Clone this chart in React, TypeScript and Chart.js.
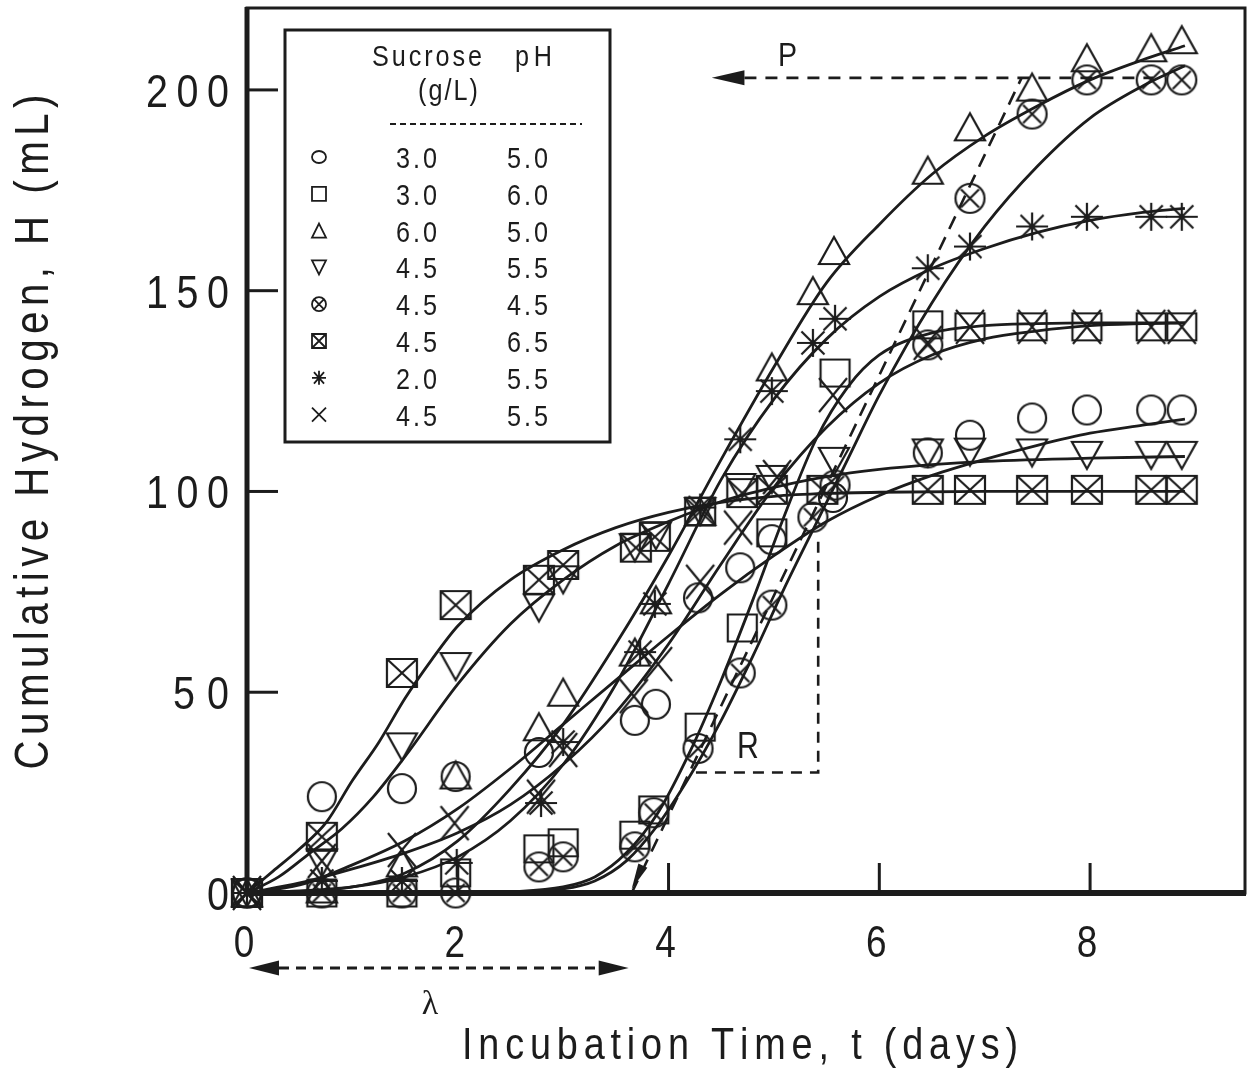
import React, { useEffect, useRef } from 'react';
import { Chart, registerables } from 'chart.js';
Chart.register(...registerables);

const INK = '#1c1c1c';
const SANS = '"Liberation Sans", Arial, Helvetica, sans-serif';
const SERIF = '"Liberation Serif", "DejaVu Serif", serif';
const NARROW = 0.84;

// ---------- axis ticks ----------
const xTickVals = [0, 2, 4, 6, 8];
const xTickLabels = ['0', '2', '4', '6', '8'];
const yTickVals = [0, 50, 100, 150, 200];
const yTickLabels = ['0', '50', '100', '150', '200'];

// ---------- legend ----------
const legendSucrose = ['3.0', '3.0', '6.0', '4.5', '4.5', '4.5', '2.0', '4.5'];
const legendPH = ['5.0', '6.0', '5.0', '5.5', '4.5', '6.5', '5.5', '5.5'];

// ---------- measured points ----------
const circleT = [0, 0.71, 1.47, 1.98, 2.77, 3.68, 3.88, 4.28, 4.68, 4.98, 5.56, 6.46, 6.86, 7.45, 7.97, 8.58, 8.87];
const circleH = [0, 24, 26, 29, 35, 43, 47, 73.5, 81, 88, 98.5, 109.6, 114, 118.3, 120.3, 120.3, 120.3];

const squareT = [0, 0.71, 1.47, 1.98, 2.77, 3.0, 3.68, 3.86, 4.3, 4.7, 4.98, 5.58, 6.46, 6.86, 7.45, 7.97, 8.58, 8.87];
const squareH = [0, 0, 0, 5, 11, 12.5, 14.4, 20.7, 41.3, 66, 89.7, 129.5, 141.5, 141, 141, 141, 141, 141];

const triUpT = [0, 0.71, 1.47, 1.98, 2.77, 3.0, 3.68, 3.88, 4.3, 4.98, 5.37, 5.57, 6.46, 6.86, 7.45, 7.97, 8.58, 8.87];
const triUpH = [0, 1, 7.5, 29.4, 41.4, 50, 60, 73, 95, 131, 150, 160, 180, 190.8, 200.7, 208, 210.5, 212.5];

const triDownT = [0, 0.71, 1.47, 1.98, 2.77, 3.0, 3.68, 3.88, 4.3, 4.68, 4.98, 5.57, 6.46, 6.86, 7.45, 7.97, 8.58, 8.87];
const triDownH = [0, 7.5, 36.4, 56.4, 71, 78, 86, 89, 95, 101, 103, 107.5, 109.6, 109.8, 109.6, 109, 109, 109];

const circXT = [0, 0.71, 1.47, 1.98, 2.77, 3.0, 3.68, 3.86, 4.28, 4.68, 4.98, 5.37, 5.58, 6.46, 6.86, 7.45, 7.97, 8.58, 8.87];
const circXH = [0, 0, 0, 0, 6.5, 9, 11.5, 20, 36, 54.8, 71.7, 93.6, 101.6, 136.5, 173, 194, 202.5, 202.5, 202.5];

const sqXT = [0, 0.71, 1.47, 1.98, 2.77, 3.0, 3.69, 3.87, 4.3, 4.7, 4.98, 5.46, 6.46, 6.86, 7.45, 7.97, 8.58, 8.87];
const sqXH = [0, 14, 54.8, 71.7, 78, 81.7, 86, 88.7, 95, 99.6, 100.4, 100.4, 100.4, 100.4, 100.4, 100.4, 100.4, 100.4];

const starT = [0, 0.71, 1.47, 1.99, 2.79, 3.0, 3.73, 3.87, 4.3, 4.68, 4.98, 5.37, 5.58, 6.46, 6.86, 7.45, 7.97, 8.58, 8.87];
const starH = [0, 3, 3, 7.5, 22.4, 37.6, 60, 72, 96, 113, 125, 137, 143, 155.6, 161, 166, 168.4, 168.4, 168.4];

const crossT = [0, 0.71, 1.47, 1.97, 2.79, 3.0, 3.67, 3.9, 4.3, 4.66, 5.03, 5.56, 6.46, 6.86, 7.45, 7.97, 8.58, 8.87];
const crossH = [0, 8, 10.7, 17.4, 24, 35.6, 49, 57, 77.5, 91, 103.6, 124, 137, 141, 141, 141, 141, 141];

// ---------- fitted curves ----------
const fitGridT = [0, 0.5, 1, 1.5, 2, 2.5, 3, 3.5, 4, 4.5, 5, 5.5, 6, 6.5, 7, 7.5, 8, 8.5, 8.9];
const fitCircleH = [0, 2, 7, 13, 21, 31, 42, 53, 64, 74.5, 84, 92.5, 99, 104, 108, 111.5, 114.5, 116.5, 118];
const fitTriUpH = [0, 0.3, 1.5, 5, 13, 26, 42, 62, 84, 108, 131, 152, 166.5, 179, 188.5, 196, 202.5, 207.5, 211];
const fitStarH = [0, 0.5, 1.5, 4, 9, 18, 32, 52, 77, 103, 123, 138, 148.5, 155.5, 160.5, 164.5, 167.5, 169.5, 170.5];
const fitCrossH = [0, 2.5, 6, 10, 15, 22, 32, 45, 62, 82, 101, 116, 127, 134, 138, 140, 141.3, 141.8, 142];

const fitSquareT = [0, 1, 2, 2.5, 3, 3.3, 3.6, 3.9, 4.2, 4.5, 4.8, 5.1, 5.4, 5.7, 6, 6.5, 7, 7.5, 8, 8.9];
const fitSquareH = [0, 0, 0.05, 0.3, 1.5, 4, 10, 20, 35, 53, 73, 94, 113, 126, 134, 139.5, 141.3, 141.8, 142, 142];

const fitTriDownT = [0, 0.3, 0.6, 0.9, 1.2, 1.5, 2, 2.5, 3, 3.5, 4, 4.5, 5, 5.5, 6, 6.5, 7, 8, 8.9];
const fitTriDownH = [0, 4, 10, 16, 24, 34, 52, 67, 78, 86.5, 92.5, 97.5, 101, 103.7, 105.5, 106.7, 107.5, 108.3, 108.7];

const fitCircXT = [0, 2, 2.5, 3, 3.3, 3.6, 3.9, 4.2, 4.5, 4.8, 5.1, 5.4, 5.7, 6, 6.5, 7, 7.5, 8, 8.5, 8.9];
const fitCircXH = [0, 0, 0.2, 1, 3, 8, 17, 29, 43, 59, 76, 92, 108, 124, 147, 166, 181, 193, 201, 206];

const fitSqXT = [0, 0.25, 0.5, 0.75, 1, 1.25, 1.5, 1.75, 2, 2.5, 3, 3.5, 4, 4.5, 5, 5.5, 6, 7, 8, 8.9];
const fitSqXH = [0, 5.5, 11, 17.5, 28, 37.5, 48.5, 58, 66.5, 78, 85.5, 91, 94.8, 97.3, 98.8, 99.5, 99.8, 100, 100, 100];

// ---------- construction lines ----------
const tangentT = [3.65, 7.35];
const tangentH = [0, 203];
const pLineT = [4.72, 8.6];
const pLineH = [203, 203];
const pArrowTipT = 4.41;
const rRectT = [4.26, 5.42, 5.42];
const rRectH = [30, 30, 88];
const lambdaT = 3.65;

type Kind = 'circle' | 'square' | 'triUp' | 'triDown' | 'circX' | 'squareX' | 'star' | 'cross';
const legendKinds: Kind[] = ['circle', 'square', 'triUp', 'triDown', 'circX', 'squareX', 'star', 'cross'];

function drawShape(ctx: CanvasRenderingContext2D, kind: Kind, cx: number, cy: number, w: number, h: number) {
  const hw = w / 2, hh = h / 2;
  ctx.beginPath();
  switch (kind) {
    case 'circle':
      ctx.ellipse(cx, cy, hw, hh, 0, 0, Math.PI * 2);
      break;
    case 'square':
      ctx.rect(cx - hw, cy - hh, w, h);
      break;
    case 'triUp':
      ctx.moveTo(cx, cy - hh); ctx.lineTo(cx + hw, cy + hh); ctx.lineTo(cx - hw, cy + hh); ctx.closePath();
      break;
    case 'triDown':
      ctx.moveTo(cx, cy + hh); ctx.lineTo(cx + hw, cy - hh); ctx.lineTo(cx - hw, cy - hh); ctx.closePath();
      break;
    case 'circX': {
      ctx.ellipse(cx, cy, hw, hh, 0, 0, Math.PI * 2);
      const k = 0.62;
      ctx.moveTo(cx - hw * k, cy - hh * k); ctx.lineTo(cx + hw * k, cy + hh * k);
      ctx.moveTo(cx + hw * k, cy - hh * k); ctx.lineTo(cx - hw * k, cy + hh * k);
      break;
    }
    case 'squareX':
      ctx.rect(cx - hw, cy - hh, w, h);
      ctx.moveTo(cx - hw, cy - hh); ctx.lineTo(cx + hw, cy + hh);
      ctx.moveTo(cx + hw, cy - hh); ctx.lineTo(cx - hw, cy + hh);
      break;
    case 'star':
      ctx.moveTo(cx - hw, cy); ctx.lineTo(cx + hw, cy);
      ctx.moveTo(cx, cy - hh); ctx.lineTo(cx, cy + hh);
      ctx.moveTo(cx - hw * 0.72, cy - hh * 0.82); ctx.lineTo(cx + hw * 0.72, cy + hh * 0.82);
      ctx.moveTo(cx + hw * 0.72, cy - hh * 0.82); ctx.lineTo(cx - hw * 0.72, cy + hh * 0.82);
      break;
    case 'cross':
      ctx.moveTo(cx - hw, cy - hh); ctx.lineTo(cx + hw, cy + hh);
      ctx.moveTo(cx + hw, cy - hh); ctx.lineTo(cx - hw, cy + hh);
      break;
  }
  ctx.stroke();
}

function makeMarker(kind: Kind, w: number, h: number): HTMLCanvasElement {
  const pad = 3;
  const c = document.createElement('canvas');
  c.width = Math.ceil(w + pad * 2);
  c.height = Math.ceil(h + pad * 2);
  const ctx = c.getContext('2d')!;
  ctx.strokeStyle = INK;
  ctx.lineWidth = 2.2;
  drawShape(ctx, kind, c.width / 2, c.height / 2, w, h);
  return c;
}

// text drawn with a narrow (horizontally compressed) face and tracking fitted to a target width
function spaced(ctx: CanvasRenderingContext2D, text: string, x: number, y: number, size: number,
  targetW: number, align: 'left' | 'center' | 'right', sx = NARROW, family = SANS) {
  ctx.font = `${size}px ${family}`;
  const chars = Array.from(text);
  const widths = chars.map((c) => ctx.measureText(c).width * sx);
  const natural = widths.reduce((s, w) => s + w, 0);
  const multi = chars.length > 1 && targetW > 0;
  const sp = multi ? (targetW - natural) / (chars.length - 1) : 0;
  const total = multi ? targetW : natural;
  let cx = align === 'left' ? x : align === 'center' ? x - total / 2 : x - total;
  ctx.textAlign = 'left';
  ctx.textBaseline = 'alphabetic';
  chars.forEach((c, i) => {
    ctx.save();
    ctx.translate(cx, y);
    ctx.scale(sx, 1);
    ctx.fillText(c, 0, 0);
    ctx.restore();
    cx += widths[i] + sp;
  });
}

function seg(ctx: CanvasRenderingContext2D, x1: number, y1: number, x2: number, y2: number) {
  ctx.beginPath(); ctx.moveTo(x1, y1); ctx.lineTo(x2, y2); ctx.stroke();
}

function arrowHead(ctx: CanvasRenderingContext2D, tipX: number, tipY: number, dirX: number, dirY: number, len: number, half: number) {
  const n = Math.hypot(dirX, dirY);
  const ux = dirX / n, uy = dirY / n;
  const bx = tipX - ux * len, by = tipY - uy * len;
  ctx.beginPath();
  ctx.moveTo(tipX, tipY);
  ctx.lineTo(bx - uy * half, by + ux * half);
  ctx.lineTo(bx + uy * half, by - ux * half);
  ctx.closePath();
  ctx.fill();
}

const decor = {
  id: 'decor',
  afterDatasetsDraw(chart: any) {
    const { ctx, chartArea: a, scales } = chart;
    const xs = scales.x, ys = scales.y;
    const px = (v: number) => xs.getPixelForValue(v);
    const py = (v: number) => ys.getPixelForValue(v);
    ctx.save();
    ctx.strokeStyle = INK;
    ctx.fillStyle = INK;
    ctx.setLineDash([]);

    // frame
    ctx.lineWidth = 3;
    ctx.strokeRect(a.left, a.top, a.right - a.left, a.bottom - a.top);
    ctx.lineWidth = 5;
    seg(ctx, a.left, a.top - 1, a.left, a.bottom + 3);
    ctx.lineWidth = 6;
    seg(ctx, a.left - 2, a.bottom, a.right + 1, a.bottom);

    // ticks (inward)
    ctx.lineWidth = 3;
    yTickVals.forEach((v) => { if (v > 0) seg(ctx, a.left, py(v), a.left + 31, py(v)); });
    xTickVals.forEach((v) => { if (v > 0) seg(ctx, px(v), a.bottom, px(v), a.bottom - 30); });

    // tick labels
    const yW: Record<number, number> = { 1: 0, 2: 56, 3: 83 };
    yTickVals.forEach((v, i) => {
      const t = yTickLabels[i];
      spaced(ctx, t, 229, py(v) + 17, 47, yW[t.length], 'right');
    });
    xTickVals.forEach((v, i) => {
      spaced(ctx, xTickLabels[i], px(v) - 3, 957, 44, 0, 'center');
    });

    // axis titles
    spaced(ctx, 'Incubation Time, t (days)', 462, 1059, 45, 556, 'left');
    ctx.save();
    ctx.translate(48, 432);
    ctx.rotate(-Math.PI / 2);
    spaced(ctx, 'Cumulative Hydrogen, H (mL)', 0, 0, 48, 675, 'center');
    ctx.restore();

    // legend box
    ctx.lineWidth = 3;
    ctx.fillStyle = '#ffffff';
    ctx.fillRect(285, 30, 325, 412);
    ctx.strokeRect(285, 30, 325, 412);
    ctx.fillStyle = INK;
    spaced(ctx, 'Sucrose', 372, 66, 30, 110, 'left');
    spaced(ctx, 'pH', 515, 66, 30, 37, 'left');
    spaced(ctx, '(g/L)', 418, 100, 30, 60, 'left');
    ctx.lineWidth = 2;
    ctx.setLineDash([6, 4]);
    seg(ctx, 390, 124, 582, 124);
    ctx.setLineDash([]);
    ctx.lineWidth = 1.8;
    legendKinds.forEach((k, i) => {
      const cy = 157 + i * 36.8;
      const h = k === 'circle' ? 12 : 14;
      drawShape(ctx, k, 319, cy, 14, h);
      spaced(ctx, legendSucrose[i], 396, cy + 11, 30, 41, 'left');
      spaced(ctx, legendPH[i], 507, cy + 11, 30, 41, 'left');
    });

    // P arrow head and label
    arrowHead(ctx, px(pArrowTipT), py(pLineH[0]), -1, 0, px(pLineT[0]) - px(pArrowTipT), 7.5);
    spaced(ctx, 'P', 778, 66, 34, 0, 'left');

    // tangent arrow head at lambda
    const tdx = px(tangentT[0]) - px(tangentT[1]);
    const tdy = py(tangentH[0]) - py(tangentH[1]);
    arrowHead(ctx, px(tangentT[0]), py(tangentH[0]) - 4, tdx, tdy, 26, 5);

    // R label
    spaced(ctx, 'R', 737, 758, 36, 0, 'left');

    // lambda double arrow below the axis
    const ly = 968;
    const lx0 = px(0) + 2, lx1 = px(lambdaT) - 3;
    ctx.lineWidth = 3;
    ctx.setLineDash([10, 7]);
    seg(ctx, lx0 + 30, ly, lx1 - 30, ly);
    ctx.setLineDash([]);
    arrowHead(ctx, lx0, ly, -1, 0, 30, 7.5);
    arrowHead(ctx, lx1, ly, 1, 0, 30, 7.5);
    ctx.font = `34px ${SERIF}`;
    ctx.textAlign = 'center';
    ctx.textBaseline = 'alphabetic';
    ctx.fillText('λ', 430, 1014);

    ctx.restore();
  },
};

function pts(t: number[], h: number[]) {
  return t.map((v, i) => ({ x: v, y: h[i] }));
}

export default function App() {
  const ref = useRef<HTMLCanvasElement | null>(null);
  useEffect(() => {
    document.body.style.margin = '0';
    const canvas = ref.current!;
    const fitLine = (t: number[], h: number[]) => ({
      data: pts(t, h),
      showLine: true,
      borderColor: INK,
      borderWidth: 2.8,
      pointRadius: 0,
      cubicInterpolationMode: 'monotone' as const,
      fill: false,
      clip: false as any,
    });
    const dashLine = (t: number[], h: number[], dash: number[]) => ({
      data: pts(t, h),
      showLine: true,
      borderColor: INK,
      borderWidth: 2.6,
      borderDash: dash,
      pointRadius: 0,
      tension: 0,
      fill: false,
      clip: false as any,
    });
    const markerSet = (t: number[], h: number[], kind: Kind, w: number, hh: number) => ({
      data: pts(t, h),
      showLine: false,
      pointStyle: makeMarker(kind, w, hh) as any,
      pointRadius: 15,
      clip: false as any,
    });
    const chart = new Chart(canvas, {
      type: 'scatter',
      data: {
        datasets: [
          markerSet(circleT, circleH, 'circle', 28, 29),
          markerSet(squareT, squareH, 'square', 29, 27),
          markerSet(triUpT, triUpH, 'triUp', 30, 27),
          markerSet(triDownT, triDownH, 'triDown', 30, 27),
          markerSet(circXT, circXH, 'circX', 29, 29),
          markerSet(sqXT, sqXH, 'squareX', 30, 28),
          markerSet(starT, starH, 'star', 32, 28),
          markerSet(crossT, crossH, 'cross', 28, 34),
          fitLine(fitGridT, fitCircleH),
          fitLine(fitSquareT, fitSquareH),
          fitLine(fitGridT, fitTriUpH),
          fitLine(fitTriDownT, fitTriDownH),
          fitLine(fitCircXT, fitCircXH),
          fitLine(fitSqXT, fitSqXH),
          fitLine(fitGridT, fitStarH),
          fitLine(fitGridT, fitCrossH),
          dashLine(tangentT, tangentH, [14, 9]),
          dashLine(pLineT, pLineH, [12, 9]),
          dashLine(rRectT, rRectH, [11, 8]),
        ] as any,
      },
      options: {
        responsive: false,
        animation: false,
        events: [],
        layout: { padding: { left: 247, top: 8, right: 3, bottom: 178 }, autoPadding: false } as any,
        scales: {
          x: { type: 'linear', min: 0, max: 9.47, display: false },
          y: { type: 'linear', min: 0, max: 220.4, display: false },
        },
        plugins: { legend: { display: false }, tooltip: { enabled: false } },
      },
      plugins: [decor],
    });
    return () => chart.destroy();
  }, []);
  return (
    <div style={{ width: 1248, height: 1071, background: '#fff' }}>
      <canvas ref={ref} width={1248} height={1071} style={{ display: 'block' }} />
    </div>
  );
}
